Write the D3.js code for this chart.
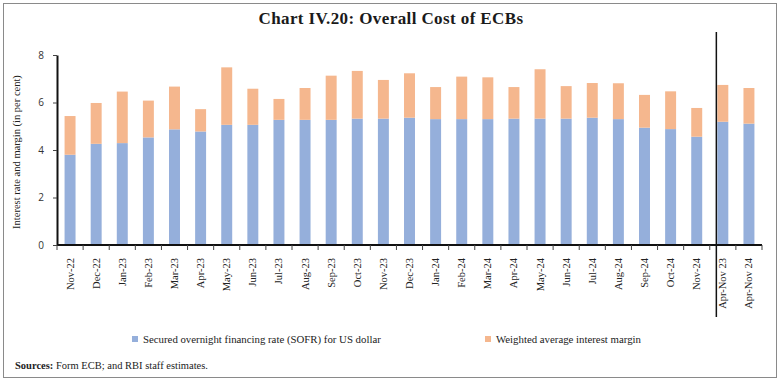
<!DOCTYPE html>
<html>
<head>
<meta charset="utf-8">
<script src="https://cdn.jsdelivr.net/npm/d3@7"></script>
<style>
  body { margin: 0; background: #fff; }
  svg { display: block; }
</style>
</head>
<body>
<div id="chart"></div>
<script>
// categories + values
var categories = ['Nov-22','Dec-22','Jan-23','Feb-23','Mar-23','Apr-23','May-23','Jun-23','Jul-23',
    'Aug-23','Sep-23','Oct-23','Nov-23','Dec-23','Jan-24','Feb-24','Mar-24','Apr-24','May-24',
    'Jun-24','Jul-24','Aug-24','Sep-24','Oct-24','Nov-24','Apr-Nov 23','Apr-Nov 24'];

var sofr = [3.80,4.26,4.29,4.53,4.87,4.78,5.06,5.06,5.27,5.27,5.27,5.32,5.32,5.36,5.30,5.30,5.30,
    5.32,5.32,5.32,5.36,5.30,4.94,4.88,4.56,5.19,5.11];

var margin = [1.63,1.72,2.17,1.55,1.80,0.94,2.42,1.52,0.88,1.34,1.86,2.01,1.63,1.87,1.35,1.79,1.76,
    1.33,2.08,1.37,1.46,1.51,1.38,1.59,1.21,1.55,1.50];

var yTicks = [0,2,4,6,8];

var seriesNames = ['Secured overnight financing rate (SOFR) for US dollar','Weighted average interest margin'];
var colors = ['#95afdb','#f5b78e'];

var W = 780, H = 381;
var plot = {left: 57, right: 762, top: 55, bottom: 245};
var serif = '"Liberation Serif", "DejaVu Serif", serif';

var svg = d3.select('#chart').append('svg')
    .attr('width', W)
    .attr('height', H);

// frame
svg.append('rect')
    .attr('x', 3.5).attr('y', 3.5)
    .attr('width', 773).attr('height', 374)
    .attr('fill', 'none')
    .attr('stroke', '#8a8a8a')
    .attr('stroke-width', 1);

// title
svg.append('text')
    .attr('x', 391).attr('y', 24)
    .attr('text-anchor', 'middle')
    .attr('font-family', serif)
    .attr('font-weight', 'bold')
    .attr('font-size', 17)
    .attr('letter-spacing', 0.4)
    .attr('fill', '#1a1a1a')
    .text('Chart IV.20: Overall Cost of ECBs');

var x = d3.scaleBand()
    .domain(categories)
    .range([plot.left, plot.right])
    .paddingInner(0.58)
    .paddingOuter(0.29);

var y = d3.scaleLinear()
    .domain([0, 8])
    .range([plot.bottom, plot.top]);

var data = categories.map(function(c, i){
    return {cat: c, sofr: sofr[i], margin: margin[i]};
});

var stack = d3.stack().keys(['sofr','margin'])(data);

// bars
svg.append('g').selectAll('g')
    .data(stack)
    .join('g')
    .attr('fill', function(d, i){ return colors[i]; })
    .selectAll('rect')
    .data(function(d){ return d; })
    .join('rect')
    .attr('x', function(d){ return x(d.data.cat); })
    .attr('width', x.bandwidth())
    .attr('y', function(d){ return y(d[1]); })
    .attr('height', function(d){ return y(d[0]) - y(d[1]); });

// y axis
var yAxis = svg.append('g')
    .attr('transform', 'translate(' + plot.left + ',0)')
    .call(d3.axisLeft(y).tickValues(yTicks).tickSize(4).tickPadding(9).tickSizeOuter(0));
yAxis.select('.domain').attr('stroke', '#111').attr('stroke-width', 2);
yAxis.selectAll('.tick line').attr('stroke', '#444');
yAxis.selectAll('.tick text')
    .attr('font-family', '"Open Sans", "DejaVu Sans", sans-serif')
    .attr('font-size', 10)
    .attr('fill', '#333');

// y title
svg.append('text')
    .attr('transform', 'translate(20,152) rotate(-90)')
    .attr('text-anchor', 'middle')
    .attr('font-family', serif)
    .attr('font-size', 10.5)
    .attr('fill', '#222')
    .text('Interest rate and margin (in per cent)');

// x axis line + ticks at category boundaries
var xg = svg.append('g');
xg.append('line')
    .attr('x1', plot.left).attr('x2', plot.right)
    .attr('y1', plot.bottom).attr('y2', plot.bottom)
    .attr('stroke', '#111').attr('stroke-width', 2);

var bounds = d3.range(categories.length + 1).map(function(i){
    return plot.left + i * x.step();
});
xg.selectAll('line.tk')
    .data(bounds)
    .join('line')
    .attr('class', 'tk')
    .attr('x1', function(d){ return d; }).attr('x2', function(d){ return d; })
    .attr('y1', plot.bottom).attr('y2', plot.bottom + 5)
    .attr('stroke', '#444');

xg.selectAll('text')
    .data(categories)
    .join('text')
    .attr('transform', function(d){
        return 'translate(' + (x(d) + x.bandwidth() / 2 + 3.5) + ',' + (plot.bottom + 13) + ') rotate(-90)';
    })
    .attr('text-anchor', 'end')
    .attr('font-family', serif)
    .attr('font-size', 10.5)
    .attr('fill', '#222')
    .text(function(d){ return d; });

// separator before the Apr-Nov comparisons
var sepX = x('Apr-Nov 23') - 1;
svg.append('line')
    .attr('x1', sepX).attr('x2', sepX)
    .attr('y1', 32).attr('y2', 317)
    .attr('stroke', '#111')
    .attr('stroke-width', 1.5);

// legend
var legendPos = [132, 485];
var leg = svg.append('g').selectAll('g')
    .data(seriesNames)
    .join('g')
    .attr('transform', function(d, i){ return 'translate(' + legendPos[i] + ',336)'; });
leg.append('rect')
    .attr('width', 6).attr('height', 6)
    .attr('fill', function(d, i){ return colors[i]; });
leg.append('text')
    .attr('x', 11).attr('y', 7)
    .attr('font-family', serif)
    .attr('font-size', 10.8)
    .attr('fill', '#222')
    .text(function(d){ return d; });

// source note
var src = svg.append('text')
    .attr('x', 15).attr('y', 369)
    .attr('font-family', serif)
    .attr('font-size', 10.5)
    .attr('fill', '#222');
src.append('tspan').attr('font-weight', 'bold').text('Sources:');
src.append('tspan').text(' Form ECB; and RBI staff estimates.');
</script>
</body>
</html>
